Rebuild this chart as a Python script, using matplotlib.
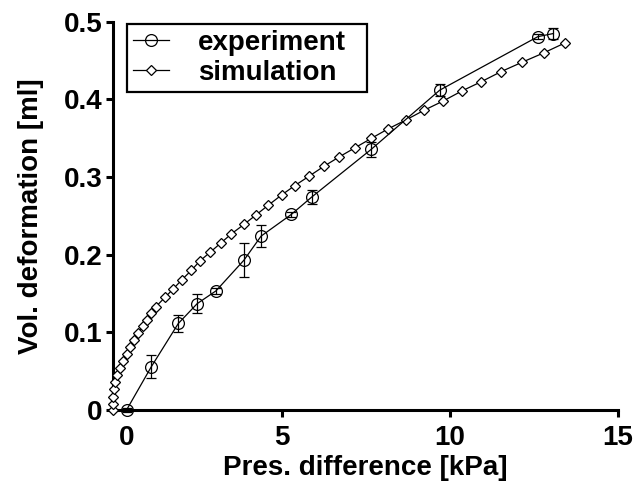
import matplotlib
matplotlib.use("Agg")
import matplotlib.pyplot as plt
from matplotlib.lines import Line2D
from matplotlib.transforms import ScaledTranslation

# Experiment data
exp_x = [0.39, 1.13, 1.93, 2.49, 3.05, 3.88, 4.39, 5.29, 5.90, 7.67, 9.70, 12.62, 13.08]
exp_y = [0.0, 0.056, 0.1115, 0.137, 0.1535, 0.193, 0.224, 0.252, 0.2745, 0.336, 0.412, 0.481, 0.485]
exp_err = [0.002, 0.015, 0.011, 0.012, 0.004, 0.022, 0.0145, 0.003, 0.009, 0.0096, 0.0075, 0.003, 0.007]

# Simulation data
sim_x = [0, 0, 0, 0.02, 0.06, 0.12, 0.20, 0.29, 0.39, 0.50, 0.62, 0.74, 0.87, 1.00, 1.13,
         1.26, 1.53, 1.78, 2.04, 2.32, 2.57, 2.87, 3.19, 3.51, 3.88, 4.23, 4.61, 5.00, 5.39,
         5.81, 6.26, 6.71, 7.19, 7.67, 8.16, 8.71, 9.23, 9.80, 10.36, 10.94, 11.53, 12.15,
         12.79, 13.43]
sim_y = [0, 0.008, 0.017, 0.027, 0.036, 0.045, 0.054, 0.063, 0.072, 0.081, 0.090, 0.099,
         0.108, 0.116, 0.125, 0.133, 0.145, 0.156, 0.168, 0.180, 0.192, 0.203, 0.215, 0.227,
         0.239, 0.251, 0.264, 0.277, 0.289, 0.301, 0.314, 0.326, 0.338, 0.350, 0.362, 0.374,
         0.386, 0.398, 0.411, 0.423, 0.436, 0.448, 0.460, 0.473]

x_ticks = [0, 5, 10, 15]
y_ticks = [0, 0.1, 0.2, 0.3, 0.4, 0.5]
y_ticklabels = ["0", "0.1", "0.2", "0.3", "0.4", "0.5"]
legend_labels = ["experiment", "simulation"]

plt.rcParams['font.family'] = ['Liberation Sans', 'DejaVu Sans']
plt.rcParams['font.weight'] = 'bold'

FS = 20

fig = plt.figure(figsize=(6.35, 4.87), dpi=100)
ax = fig.add_axes([0.1786, 0.1581, 0.7946, 0.797])

sim_style = dict(color='black', lw=0.9, marker='D', ms=5, mfc='white', mec='black', mew=0.9)
exp_style = dict(color='black', lw=0.9, marker='o', ms=8.5, mfc='none', mec='black', mew=0.9)

ax.plot(sim_x, sim_y, clip_on=False, zorder=3, **sim_style)
ax.errorbar(exp_x, exp_y, yerr=exp_err, capsize=3.5, elinewidth=0.9,
            capthick=0.9, clip_on=False, zorder=4, **exp_style)

ax.set_xlim(0, 15)
ax.set_ylim(0, 0.5)
ax.set_xticks(x_ticks)
ax.set_yticks(y_ticks)
ax.set_yticklabels(y_ticklabels)

for s in ['top', 'right']:
    ax.spines[s].set_visible(False)
for s in ['left', 'bottom']:
    ax.spines[s].set_linewidth(2.2)

ax.tick_params(axis='both', which='major', width=2.2, length=5, labelsize=FS)
ax.tick_params(axis='x', pad=6)
ax.tick_params(axis='y', pad=3)

# offset the "0" x tick label like the reference
labels = ax.get_xticklabels()
offset = ScaledTranslation(13 / 100, 0, fig.dpi_scale_trans)
labels[0].set_transform(labels[0].get_transform() + offset)
ax.get_xticklines()[0].set_visible(False)

ax.set_xlabel('Pres. difference [kPa]', fontsize=FS, fontweight='bold', labelpad=2.5)
ax.set_ylabel('Vol. deformation [ml]', fontsize=FS, fontweight='bold', labelpad=14)

handles = [Line2D([], [], **exp_style), Line2D([], [], **sim_style)]
leg = ax.legend(handles, legend_labels,
                loc='upper left', bbox_to_anchor=(0.027, 0.0, 0.4756, 0.994), mode='expand',
                frameon=True, fancybox=False, edgecolor='black', framealpha=1,
                fontsize=FS, handlelength=1.3, handletextpad=1.05, borderpad=0.2,
                labelspacing=0.16, borderaxespad=0)
leg.get_frame().set_linewidth(1.6)

fig.savefig('out.png', dpi=100)
